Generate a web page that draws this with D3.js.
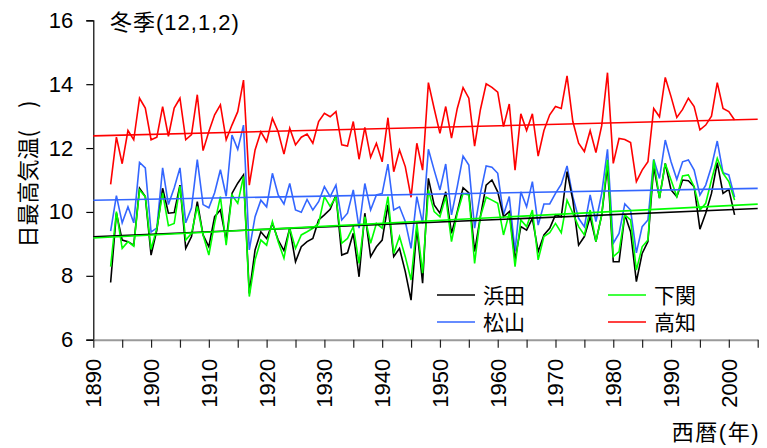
<!DOCTYPE html>
<html>
<head>
<meta charset="utf-8">
<script src="https://cdn.jsdelivr.net/npm/d3@7"></script>
<style>
  html, body { margin: 0; padding: 0; background: #fff; }
  svg { display: block; }
  text { font-family: "Liberation Sans", Arial, "Noto Sans CJK JP", sans-serif; fill: #000; }
</style>
</head>
<body>
<svg id="chart" width="767" height="448"></svg>
<script>
// Winter (Dec–Feb) mean daily maximum temperature, 1893–2001
const firstYear = 1893;
const hamada = [7.79,9.96,9.12,9.07,8.96,10.74,10.48,8.65,9.43,10.74,9.96,9.98,10.84,8.86,9.23,10.32,9.28,8.91,9.85,10.06,
  9.12,10.58,10.90,11.16,7.45,8.81,9.38,9.17,9.64,9.12,8.79,9.49,8.44,8.91,9.07,9.17,9.75,9.91,10.08,10.53,
  8.65,8.72,9.33,7.97,9.96,8.60,8.91,9.12,10.22,8.60,8.86,8.13,7.24,9.49,7.77,11.05,10.22,9.96,10.63,9.33,
  10.01,10.76,10.60,8.76,9.85,10.84,11.00,10.63,9.85,10.01,8.50,9.54,9.43,9.80,8.76,9.28,9.49,9.91,9.85,11.26,
  10.37,8.96,9.23,9.85,9.07,9.91,11.44,8.44,8.44,9.91,9.38,7.82,8.70,9.07,11.42,10.43,11.52,10.69,10.48,11.00,
  10.98,10.79,9.46,9.96,10.58,11.54,10.58,10.71,9.91];
const shimonoseki = [8.29,10.01,8.86,9.07,8.93,10.69,10.48,8.83,9.49,10.60,9.57,9.64,10.81,9.12,9.33,10.17,9.28,8.65,9.64,10.48,
  8.96,10.53,10.27,11.11,7.35,8.50,9.12,8.96,9.70,9.07,8.55,9.49,8.86,9.28,9.38,9.49,9.64,10.48,10.17,10.48,
  9.02,9.17,9.54,8.39,9.85,9.02,9.64,9.49,10.48,8.70,9.23,8.60,7.87,9.64,8.08,10.69,10.01,9.85,10.48,9.07,
  9.96,10.58,10.53,8.39,9.85,10.46,10.37,10.27,9.28,9.96,8.29,9.75,9.54,10.06,8.50,9.23,9.35,9.64,9.35,10.37,
  9.96,9.54,9.28,10.06,9.07,9.90,11.63,8.60,8.76,9.91,9.75,8.18,8.91,9.12,11.63,10.43,11.52,11.00,10.48,11.13,
  11.16,10.79,10.06,10.27,11.00,11.68,11.21,10.95,10.37];
const matsuyama = [9.40,10.51,9.66,10.16,9.66,11.55,11.38,9.37,9.50,11.38,10.23,10.75,11.38,9.66,10.13,11.64,10.23,10.13,10.60,11.32,
  10.49,12.41,11.96,12.72,8.81,9.85,10.37,10.16,11.21,10.53,10.25,10.89,10.06,9.99,10.39,10.06,10.32,10.79,10.48,10.84,
  9.75,9.96,10.69,9.49,10.89,10.06,10.53,10.58,11.50,10.06,10.16,9.70,8.86,10.48,9.64,11.96,11.31,10.69,11.50,9.91,
  10.79,11.75,11.47,9.49,10.58,11.44,11.40,11.21,9.91,10.48,8.76,10.63,10.16,10.95,9.59,10.25,10.25,10.58,10.87,11.44,
  10.48,9.80,9.54,10.53,9.70,10.58,11.96,9.02,9.33,10.25,10.06,8.72,9.54,9.75,11.65,11.05,12.25,11.57,11.02,11.57,
  11.63,11.31,10.53,10.84,11.42,12.22,11.23,11.16,10.46];
const kochi = [10.86,12.34,11.51,12.55,12.26,13.56,13.25,12.26,12.34,13.30,12.37,13.25,13.56,12.26,12.42,13.67,11.92,12.52,13.04,13.35,
  12.26,12.72,13.14,14.13,10.84,11.94,12.51,12.20,12.93,12.51,11.81,12.62,12.10,12.34,12.44,12.15,12.83,13.09,12.98,13.14,
  12.10,12.06,12.83,11.65,12.65,11.71,12.15,11.57,12.95,11.26,11.94,11.42,10.46,12.15,11.31,14.05,13.24,12.46,13.30,12.31,
  13.24,13.89,13.56,12.06,13.20,14.01,13.90,13.75,12.67,13.38,11.31,13.07,12.55,13.07,11.75,12.55,13.04,13.30,13.24,14.26,
  12.83,12.15,11.89,12.55,11.86,12.70,14.36,11.52,12.30,12.27,12.17,10.95,11.31,11.57,13.24,12.98,14.21,13.61,12.96,13.21,
  13.56,13.30,12.57,12.72,13.00,14.05,13.24,13.14,12.88];

const seriesNames = ["浜田", "下関", "松山", "高知"];
const seriesColors = ["#000000", "#00ff00", "#3366ff", "#ff0000"];
const seriesValues = [hamada, shimonoseki, matsuyama, kochi];
const drawOrder = [3, 2, 0, 1];

const yTicks = [6, 8, 10, 12, 14, 16];
const xLabelYears = [1890, 1900, 1910, 1920, 1930, 1940, 1950, 1960, 1970, 1980, 1990, 2000];
const xTickYears = d3.range(1890, 2006, 5);

const svg = d3.select("#chart");
const x = d3.scaleLinear().domain([1890, 2005]).range([93.3, 757.7]);
const y = d3.scaleLinear().domain([6, 16]).range([339.7, 20.3]);

svg.append("rect").attr("width", 767).attr("height", 448).attr("fill", "#fff");

// y axis
const yAxis = d3.axisLeft(y).tickValues(yTicks).tickSize(7).tickPadding(13).tickFormat(d3.format("d"));
const gy = svg.append("g").attr("transform", `translate(${x(1890)},0)`).call(yAxis);
gy.select(".domain").attr("stroke", "#000").attr("stroke-width", 1.2);
gy.selectAll(".tick line").attr("stroke", "#000").attr("stroke-width", 1.2);
gy.selectAll(".tick text").style("font-size", "22px").attr("font-family", "Liberation Sans, Arial, sans-serif");

// x axis
const xAxis = d3.axisBottom(x).tickValues(xTickYears).tickSize(8).tickSizeOuter(0).tickFormat("");
const gx = svg.append("g").attr("transform", `translate(0,${y(6)})`).call(xAxis);
gx.select(".domain").attr("stroke", "#9a9a9a").attr("stroke-width", 2);
gx.selectAll(".tick line").attr("stroke", "#222").attr("stroke-width", 1.2);

svg.append("g").selectAll("text").data(xLabelYears).join("text")
  .attr("transform", d => `translate(${x(d)},${y(6) + 19}) rotate(-90)`)
  .attr("text-anchor", "end")
  .attr("dy", "0.36em")
  .style("font-size", "22px")
  .text(d => d);

// series lines
const years = hamada.map((_, i) => firstYear + i);
const line = d3.line().x((d, i) => x(years[i])).y(d => y(d));

// least-squares trend for each station
const linReg = vals => {
  const mx = d3.mean(years), my = d3.mean(vals);
  let sxy = 0, sxx = 0;
  vals.forEach((v, i) => { sxy += (years[i] - mx) * (v - my); sxx += (years[i] - mx) ** 2; });
  const b = sxy / sxx;
  return t => my + b * (t - mx);
};

const plot = svg.append("g");
drawOrder.forEach(k => {
  plot.append("path")
    .attr("d", line(seriesValues[k]))
    .attr("fill", "none")
    .attr("stroke", seriesColors[k])
    .attr("stroke-width", 1.6)
    .attr("stroke-linejoin", "miter");
});
drawOrder.forEach(k => {
  const f = linReg(seriesValues[k]);
  plot.append("line")
    .attr("x1", x(1890)).attr("y1", y(f(1890)))
    .attr("x2", x(2005)).attr("y2", y(f(2005)))
    .attr("stroke", seriesColors[k])
    .attr("stroke-width", 1.6);
});

// legend
const legendPos = [[437, 295], [608, 295], [437, 322], [608, 322]];
const legend = svg.append("g");
seriesNames.forEach((name, k) => {
  const [lx, ly] = legendPos[k];
  legend.append("line").attr("x1", lx).attr("x2", lx + 38).attr("y1", ly).attr("y2", ly)
    .attr("stroke", seriesColors[k]).attr("stroke-width", 1.6);
  legend.append("text").attr("x", lx + 46).attr("y", ly).attr("dy", "0.36em")
    .style("font-size", "21px")
    .text(name);
});

// titles
svg.append("text").attr("x", 110).attr("y", 22).attr("dy", "0.36em")
  .style("font-size", "22px").style("letter-spacing", "1px").text("冬季(12,1,2)");

svg.append("text").attr("transform", "translate(28,174) rotate(-90)")
  .attr("text-anchor", "middle").attr("dy", "0.36em")
  .style("font-size", "22px").style("font-family", "'Noto Sans CJK JP', sans-serif")
  .text("日最高気温(　)");

svg.append("text").attr("x", 760).attr("y", 432).attr("dy", "0.36em")
  .attr("text-anchor", "end")
  .style("font-size", "22px").style("letter-spacing", "1.5px")
  .text("西暦(年)");
</script>
</body>
</html>
